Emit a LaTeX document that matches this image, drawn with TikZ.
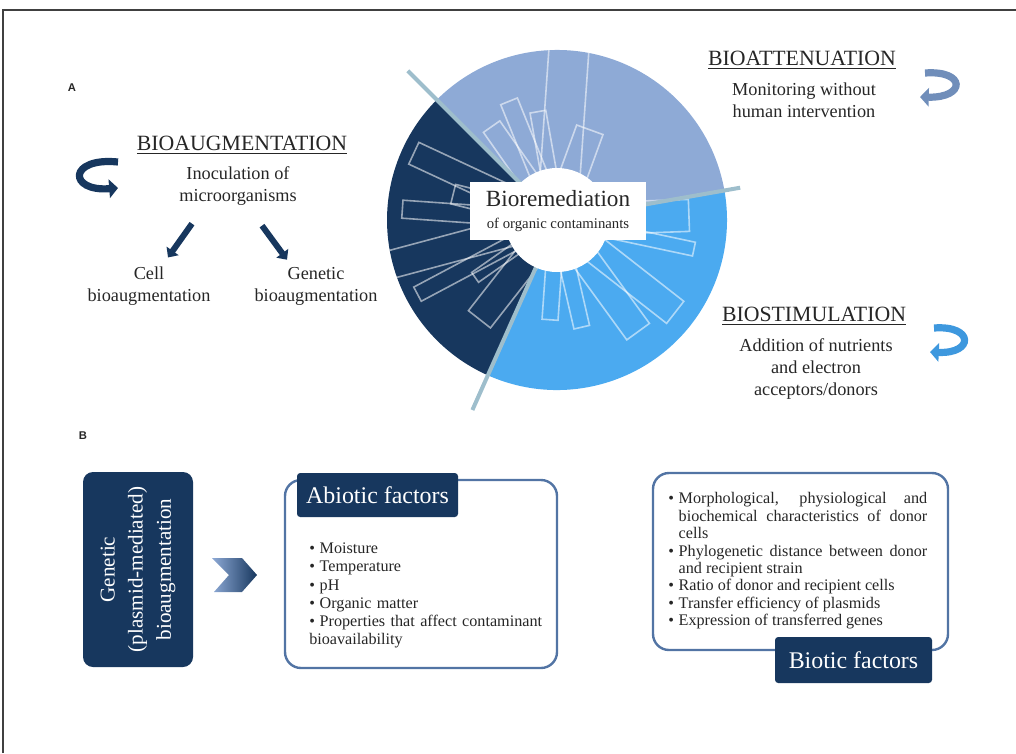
\documentclass[tikz,border=0pt]{standalone}
\usepackage{fontspec}
\setmainfont{Liberation Serif}
\setsansfont{Liberation Sans}
\usetikzlibrary{arrows.meta,positioning,calc}

\definecolor{navy}{RGB}{23,55,94}
\definecolor{steel}{RGB}{142,170,214}
\definecolor{skyb}{RGB}{75,170,240}
\definecolor{rimgray}{RGB}{158,190,204}
\definecolor{frameblue}{RGB}{82,116,164}
\definecolor{ink}{RGB}{38,38,38}
\definecolor{attblue}{RGB}{112,142,186}
\definecolor{stimblue}{RGB}{62,152,222}

\hyphenpenalty=10000
\tolerance=9999
\newcommand{\bitem}[1]{\par\hangindent=2.6mm\hangafter=1\noindent\makebox[2.6mm][l]{\textbullet}#1}

\begin{document}
\begin{tikzpicture}[x=0.25mm, y=0.25mm,
    heading/.style={font=\fontsize{15.5}{18}\selectfont, text=ink, inner sep=0pt},
    body/.style={font=\fontsize{13}{15.6}\selectfont, text=ink, align=center, inner sep=0pt},
    panel/.style={font=\sffamily\bfseries\fontsize{8}{9}\selectfont, text=ink, inner sep=0pt},
    fatarrow/.style={-{Triangle[length=2mm,width=3.6mm]}, line width=1.5mm, draw=navy},
    uturn/.style={-{Triangle[length=2.2mm,width=4.6mm]}, line width=1.8mm},
    spoke/.style={draw=white, draw opacity=0.55, line width=0.4mm},
    sepline/.style={draw=rimgray, line width=1mm},
    darkbox/.style={fill=navy, rounded corners=0.8mm, text=white, inner sep=0pt},
    factorbox/.style={draw=frameblue, line width=0.6mm, rounded corners=4mm, fill=white},
    items/.style={anchor=north west, inner sep=0pt, text=ink, font=\fontsize{11.5}{13}\selectfont},
]
\useasboundingbox (0,0) rectangle (1016,-753);
\draw[line width=0.5mm, black!75] (3,-753) -- (3,-10) -- (1016,-10);

% panel A
\node[panel] (lblA) at (72,-88) {A};

% wheel
\coordinate (hub) at (557,-220);
\fill[steel] (hub) -- ++(10:170) arc[start angle=10, end angle=135, radius=170] -- cycle;
\fill[navy] (hub) -- ++(135:170) arc[start angle=135, end angle=246, radius=170] -- cycle;
\fill[skyb] (hub) -- ++(246:170) arc[start angle=246, end angle=370, radius=170] -- cycle;
\begin{scope}
  \clip (hub) circle[radius=170];
  \foreach \ang/\len/\hw in {86/180/20, 100/110/8, 112/128/9, 125/114/10, 70/96/14,
      155/158/12, 166/107/10, 176/155/9, 195/180/14, 208/158/8, 215/100/6, 232/126/14,
      266/100/8, 283/110/8, 306/138/14, 322/150/14, 348/140/7, 2/132/16}
    \draw[spoke, shift={(hub)}, rotate=\ang] (30,-\hw) rectangle (\len,\hw);
\end{scope}
\draw[sepline] ($(hub)+(135:50)$) -- ($(hub)+(135:211)$);
\draw[sepline] ($(hub)+(10:50)$) -- ($(hub)+(10:186)$);
\draw[sepline] ($(hub)+(246:50)$) -- ($(hub)+(246:208)$);
\fill[white] (hub) circle[radius=52];
\node[fill=white, minimum width=44mm, minimum height=14.5mm, align=center, text=ink, inner sep=0pt] (core) at (558,-211)
  {\fontsize{16.5}{19}\selectfont Bioremediation\\[3pt]\fontsize{10.5}{12}\selectfont of organic contaminants};

% bioaugmentation
\node[heading] (augtitle) at (242,-145) {\underline{BIOAUGMENTATION}};
\node[body] (inoc) at (238,-186) {Inoculation of\\microorganisms};
\node[body] (cellaug) at (149,-286) {Cell\\bioaugmentation};
\node[body] (genaug) at (316,-286) {Genetic\\bioaugmentation};
\draw[fatarrow] ($(inoc.south)+(-46,-18)$) -- ($(cellaug.north)+(19,9)$);
\draw[fatarrow] ($(inoc.south)+(24,-20)$) -- ($(genaug.north)+(-29,7)$);
\draw[uturn, draw=navy] (118,-162) .. controls (68,-157) and (68,-192) .. (118,-188);

% bioattenuation
\node[heading] (atttitle) at (802,-60) {\underline{BIOATTENUATION}};
\node[body] (monitor) at (804,-100) {Monitoring without\\human intervention};
\draw[uturn, draw=attblue] (925,-73) .. controls (966,-70) and (966,-98) .. (920,-97);

% biostimulation
\node[heading] (stimtitle) at (814,-316) {\underline{BIOSTIMULATION}};
\node[body] (nutri) at (816,-369) {Addition of nutrients\\and electron\\acceptors/donors};
\draw[uturn, draw=stimblue] (934,-328) .. controls (974,-325) and (974,-354) .. (930,-352);

% panel B
\node[panel] (lblB) at (83,-436) {B};
\node[darkbox, rounded corners=2.5mm, rotate=90, minimum width=48.75mm, minimum height=27.5mm,
  align=center, font=\fontsize{15}{20}\selectfont] (genbox) at (138,-569.5)
  {Genetic\\(plasmid-mediated)\\bioaugmentation};
\shade[left color=steel, right color=navy] (212,-558) -- (242,-558) -- (257,-575) -- (242,-592) -- (214,-592) -- (229,-575) -- cycle;

\node[factorbox, minimum width=68mm, minimum height=47mm] (abiotic) at (421,-574) {};
\node[darkbox, minimum width=40.25mm, minimum height=11mm, font=\fontsize{17}{20}\selectfont] (abhead) at (377.5,-495) {Abiotic factors};
\node[items, text width=60mm, align=left] (abitems) at (309,-535)
  {\bitem{Moisture}\bitem{Temperature}\bitem{pH}\bitem{Organic matter}\bitem{Properties that affect contaminant bioavailability}};

\node[factorbox, minimum width=73.75mm, minimum height=44.25mm] (biotic) at (800.5,-561.5) {};
\node[darkbox, minimum width=39.25mm, minimum height=11.5mm, font=\fontsize{17}{20}\selectfont] (bihead) at (853.5,-660) {Biotic factors};
\node[items, text width=64.75mm, align=justify, font=\fontsize{11.5}{12.4}\selectfont] (biitems) at (668,-486)
  {\bitem{Morphological, physiological and biochemical characteristics of donor cells}\bitem{Phylogenetic distance between donor and recipient strain}\bitem{Ratio of donor and recipient cells}\bitem{Transfer efficiency of plasmids}\bitem{Expression of transferred genes}};
\end{tikzpicture}
\end{document}
